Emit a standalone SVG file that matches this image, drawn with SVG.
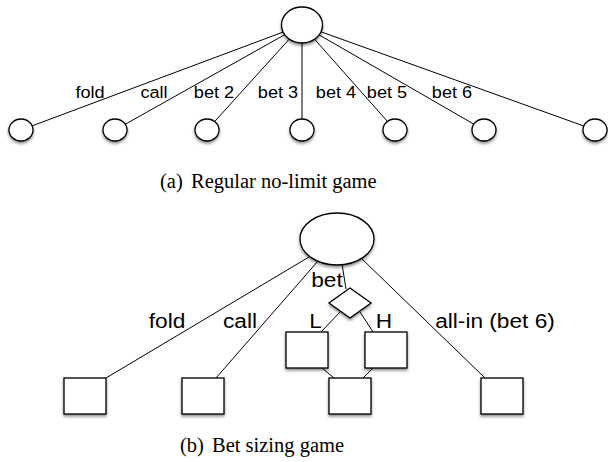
<svg xmlns="http://www.w3.org/2000/svg" width="608" height="462" viewBox="0 0 608 462">
<defs>
<filter id="sh" x="-30%" y="-30%" width="160%" height="170%">
<feDropShadow dx="0" dy="2" stdDeviation="1.6" flood-color="#000" flood-opacity="0.45"/>
</filter>
<style>
.n{fill:#fff;stroke:#000;stroke-width:1.3;filter:url(#sh)}
.e{stroke:#000;stroke-width:1;fill:none}
.lt{font-family:"Liberation Sans",Arial,sans-serif;font-size:16.5px;fill:#000;text-anchor:middle}
.lb{font-family:"Liberation Sans",Arial,sans-serif;font-size:21px;fill:#000;text-anchor:middle}
.cap{font-family:"Liberation Serif","Times New Roman",serif;font-size:20.5px;fill:#000}
</style>
</defs>
<rect width="608" height="462" fill="#fff"/>
<g id="connectors">
<line class="e" x1="302" y1="25" x2="21" y2="130"/>
<line class="e" x1="302" y1="25" x2="115" y2="130"/>
<line class="e" x1="302" y1="25" x2="207" y2="130"/>
<line class="e" x1="302" y1="25" x2="302" y2="130"/>
<line class="e" x1="302" y1="25" x2="395" y2="130"/>
<line class="e" x1="302" y1="25" x2="484" y2="130"/>
<line class="e" x1="302" y1="25" x2="595" y2="130"/>
<line class="e" x1="309" y1="257" x2="106" y2="378"/>
<line class="e" x1="318" y1="261" x2="216" y2="378"/>
<line class="e" x1="342" y1="264" x2="346" y2="289"/>
<line class="e" x1="361" y1="258" x2="485" y2="378"/>
<line class="e" x1="340" y1="312" x2="321" y2="332"/>
<line class="e" x1="360" y1="312" x2="373" y2="332"/>
<line class="e" x1="322" y1="368" x2="334" y2="378"/>
<line class="e" x1="373" y1="368" x2="363" y2="378"/>
</g>
<g id="root-a"><ellipse class="n" cx="302" cy="25" rx="20.5" ry="18"/></g>
<g id="leaf-fold"><ellipse class="n" cx="21" cy="130" rx="12" ry="11"/></g>
<g id="leaf-call"><ellipse class="n" cx="115" cy="130" rx="12" ry="11"/></g>
<g id="leaf-bet2"><ellipse class="n" cx="207" cy="130" rx="12" ry="11"/></g>
<g id="leaf-bet3"><ellipse class="n" cx="302" cy="130" rx="12" ry="11"/></g>
<g id="leaf-bet4"><ellipse class="n" cx="395" cy="130" rx="12" ry="11"/></g>
<g id="leaf-bet5"><ellipse class="n" cx="484" cy="130" rx="12" ry="11"/></g>
<g id="leaf-bet6"><ellipse class="n" cx="595" cy="130" rx="12" ry="11"/></g>
<g id="labels-a">
<text class="lt" transform="translate(90,98) scale(1.1,1)">fold</text>
<text class="lt" transform="translate(154,98) scale(1.1,1)">call</text>
<text class="lt" transform="translate(214,98) scale(1.1,1)">bet 2</text>
<text class="lt" transform="translate(278,98) scale(1.1,1)">bet 3</text>
<text class="lt" transform="translate(336,98) scale(1.1,1)">bet 4</text>
<text class="lt" transform="translate(387,98) scale(1.1,1)">bet 5</text>
<text class="lt" transform="translate(452,98) scale(1.1,1)">bet 6</text>
</g>
<g id="caption-a">
<text class="cap" x="160" y="188">(a)</text>
<text class="cap" x="191" y="188">Regular no-limit game</text>
</g>
<g id="root-b"><ellipse class="n" cx="337" cy="239" rx="37" ry="26"/></g>
<g id="diamond"><polygon class="n" points="350,288 371,303 350,318 329,303"/></g>
<g id="box-fold"><rect class="n" x="64" y="378" width="42" height="36"/></g>
<g id="box-call"><rect class="n" x="182" y="378" width="42" height="36"/></g>
<g id="box-L"><rect class="n" x="286" y="332" width="42" height="36"/></g>
<g id="box-H"><rect class="n" x="365" y="332" width="42" height="36"/></g>
<g id="box-mid"><rect class="n" x="329" y="378" width="42" height="36"/></g>
<g id="box-allin"><rect class="n" x="481" y="378" width="42" height="36"/></g>
<g id="labels-b">
<text class="lb" transform="translate(327,287) scale(1.08,1)">bet</text>
<text class="lb" transform="translate(167,328) scale(1.08,1)">fold</text>
<text class="lb" transform="translate(240,328) scale(1.08,1)">call</text>
<text class="lb" transform="translate(315.5,328) scale(1.08,1)">L</text>
<text class="lb" transform="translate(384,328) scale(1.08,1)">H</text>
<text class="lb" transform="translate(495,328) scale(1.08,1)">all-in (bet 6)</text>
</g>
<g id="caption-b">
<text class="cap" x="180" y="452">(b)</text>
<text class="cap" x="212" y="452">Bet sizing game</text>
</g>
</svg>
